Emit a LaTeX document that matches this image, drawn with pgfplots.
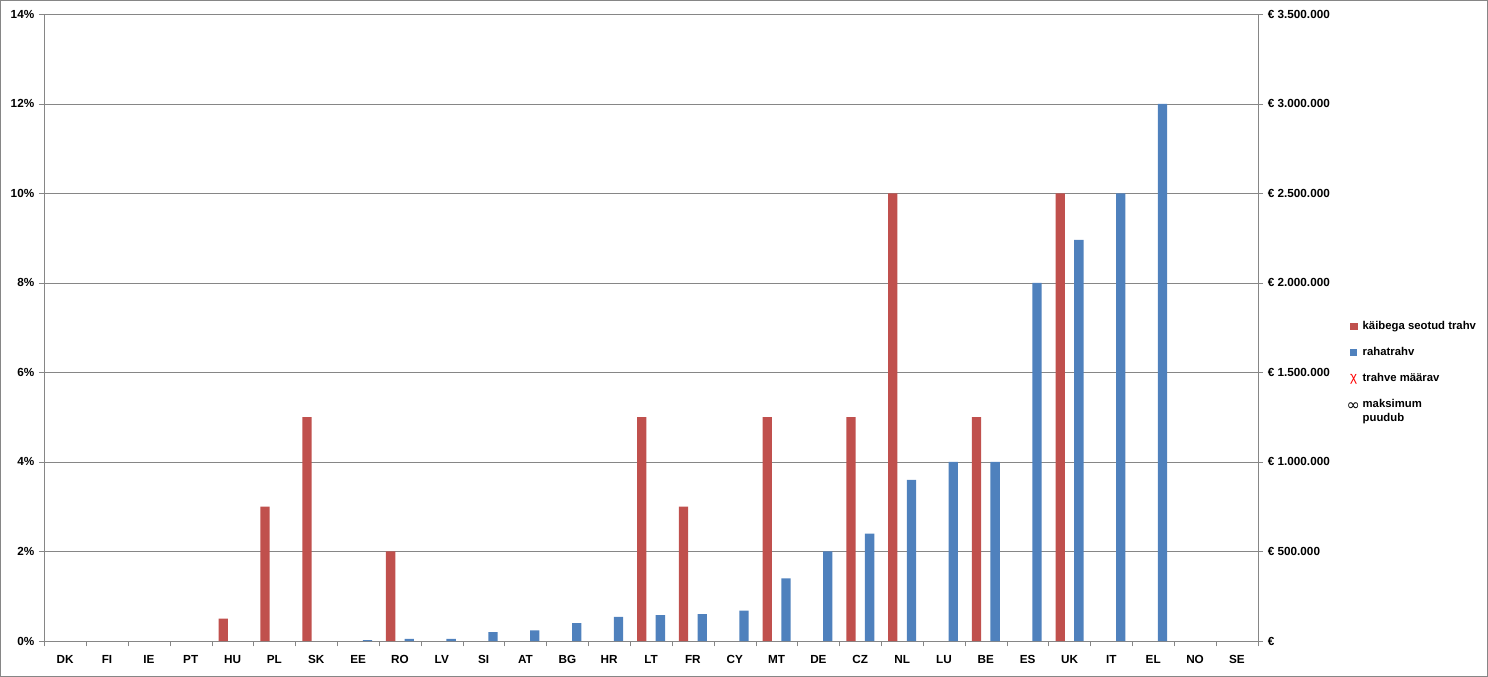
\documentclass[border=0pt]{standalone}
\usepackage{fontspec}
\setmainfont{Liberation Sans}
\newfontfamily\dejavu{DejaVu Sans}
\usepackage{pgfplots}
\pgfplotsset{compat=1.18}
\definecolor{cred}{HTML}{C0504D}
\definecolor{cblue}{HTML}{4F81BD}
\definecolor{cgrid}{HTML}{868686}

\begin{document}
\begin{tikzpicture}[font=\fontsize{8.8}{10.5}\selectfont\bfseries]
\pgfplotsset{
 base/.style={
  width=910.5pt, height=470.25pt, scale only axis,
  xmin=-0.5, xmax=28.5,
  ybar, bar width=7pt,
  axis line style={cgrid},
  tick style={cgrid},
  tick align=outside,
  major tick length=4pt,
 }
}
\begin{axis}[base,
  ymin=0, ymax=14,
  ytick={0,2,...,14},
  yticklabels={0\%,2\%,4\%,6\%,8\%,10\%,12\%,14\%},
  ymajorgrids, grid style={cgrid},
  axis x line*=bottom, axis y line*=left,
  xtick={0,...,28},
  xticklabels={DK,FI,IE,PT,HU,PL,SK,EE,RO,LV,SI,AT,BG,HR,LT,FR,CY,MT,DE,CZ,NL,LU,BE,ES,UK,IT,EL,NO,SE},
  major x tick style={draw=none},
  minor xtick={-0.5,0.5,...,28.5},
  minor tick length=4pt,
  xticklabel style={yshift=-3pt},
]
\addplot[fill=cred, draw=none, bar shift=-7pt] coordinates {
 (4,0.5) (5,3) (6,5) (8,2) (14,5) (15,3) (17,5) (19,5) (20,10) (22,5) (24,10)
};
\end{axis}
\begin{axis}[base,
  ymin=0, ymax=3500000,
  ytick={0,500000,...,3500000},
  yticklabels={€,€ 500.000,€ 1.000.000,€ 1.500.000,€ 2.000.000,€ 2.500.000,€ 3.000.000,€ 3.500.000},
  axis y line*=right, axis x line=none,
  legend style={draw=none, fill=none, at={(1.073,0.515)}, anchor=north west,
    row sep=8pt, inner sep=0pt, font=\fontsize{8.5}{10}\selectfont\bfseries},
  legend cell align=left,
]
\addlegendimage{legend image code/.code={\fill[cred] (0pt,-2.6pt) rectangle (5.2pt,2.6pt);}}
\addlegendentry{käibega seotud trahv}
\addplot[fill=cblue, draw=none, bar shift=7pt,
  legend image code/.code={\fill[cblue] (0pt,-2.6pt) rectangle (5.2pt,2.6pt);}] coordinates {
 (7,5000) (8,12000) (9,12000) (10,50000) (11,60000) (12,100000) (13,135000)
 (14,145000) (15,150000) (16,170000) (17,350000) (18,500000) (19,600000)
 (20,900000) (21,1000000) (22,1000000) (23,2000000) (24,2240000)
 (25,2500000) (26,3000000)
};
\addlegendentry{rahatrahv}
\addlegendimage{legend image code/.code={\node[text=red, inner sep=0pt, anchor=west, font=\fontsize{10}{12}\selectfont] at (-0.5pt,0pt) {χ};}}
\addlegendentry{trahve määrav}
\addlegendimage{legend image code/.code={\node[inner sep=0pt, anchor=west, font=\dejavu\fontsize{12}{12}\selectfont] at (-3pt,3pt) {∞};}}
\addlegendentry[align=left]{maksimum\\puudub}
\end{axis}
\pgfresetboundingbox
\draw[cgrid] (-33pt,-26.25pt) rectangle (1083pt,480.75pt);
\end{tikzpicture}
\end{document}
